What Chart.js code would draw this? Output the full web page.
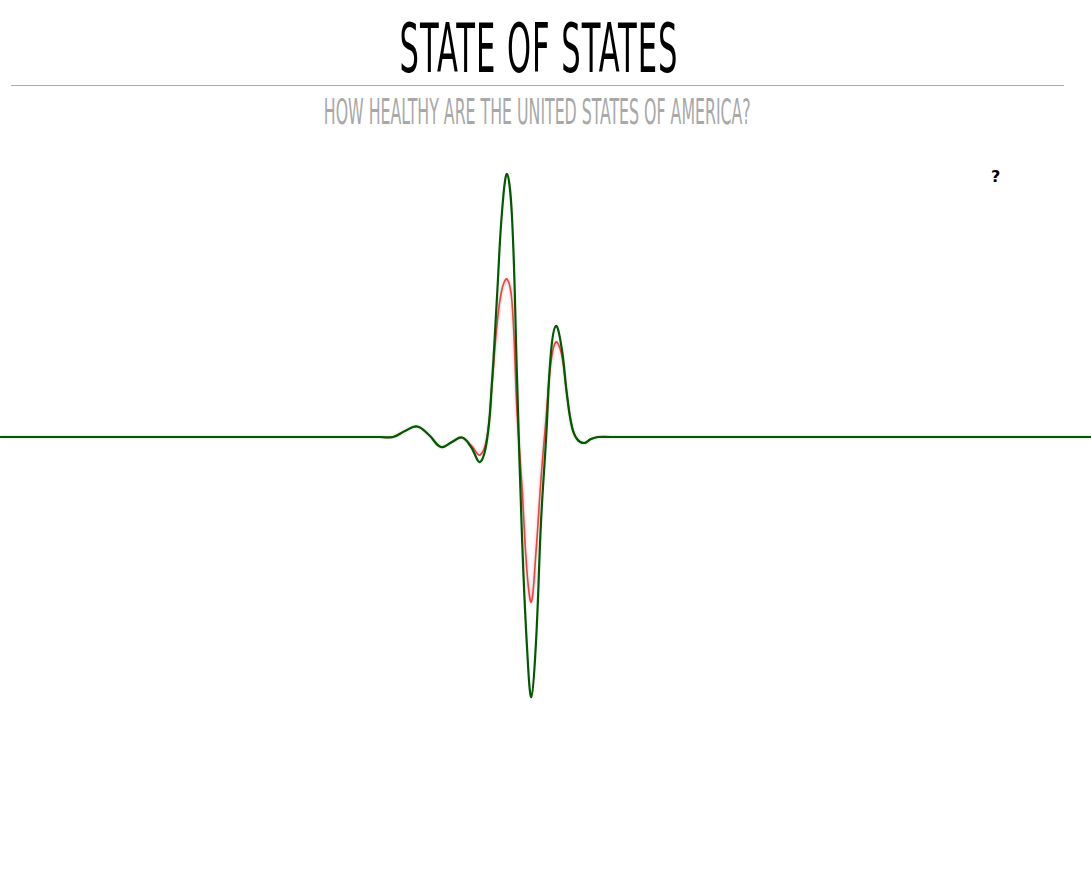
<!DOCTYPE html>
<html>
<head>
<meta charset="utf-8">
<script src="https://cdn.jsdelivr.net/npm/chart.js@4.4.1/dist/chart.umd.min.js"></script>
<style>
  html, body { margin: 0; padding: 0; background: #fff; width: 1091px; height: 892px; overflow: hidden; }
  #title { position: absolute; left: -7px; width: 1091px; top: 10px; text-align: center; }
  #title span { display: inline-block; font-family: "DejaVu Sans Condensed", "DejaVu Sans", sans-serif; font-size: 68px; line-height: 78px; color: #000; transform: scaleX(0.5); transform-origin: center; letter-spacing: 2px; }
  #rule { position: absolute; left: 11px; width: 1053px; top: 85px; height: 1px; background: #aaa; }
  #subtitle { position: absolute; left: -8px; width: 1091px; top: 92px; text-align: center; }
  #subtitle span { display: inline-block; font-family: "DejaVu Sans Condensed", "DejaVu Sans", sans-serif; font-weight: 300; font-size: 36px; line-height: 40px; color: #a8a8a8; transform: scaleX(0.487); transform-origin: center; }
  #help { position: absolute; left: 991px; top: 167px; font-family: "DejaVu Sans", sans-serif; font-weight: bold; font-size: 16px; color: #000; }
  #wrap { position: absolute; left: 0; top: 137px; width: 1091px; height: 600px; }
</style>
</head>
<body>
<div id="title"><span>STATE OF STATES</span></div>
<div id="rule"></div>
<div id="subtitle"><span>HOW HEALTHY ARE THE UNITED STATES OF AMERICA?</span></div>
<div id="help">?</div>
<div id="wrap"><canvas id="c"></canvas></div>
<script>
const greenX = [0, 370, 380, 393, 405, 417, 429, 441, 452, 462, 471, 480, 487, 492, 497, 502, 507, 512, 517, 522, 527, 531.3, 536, 541, 546, 551, 556, 561.5, 567, 572, 577, 584, 591, 598, 610, 1091];
const greenY = [0, 0, 0, 0, 6, 10.5, 2, -10, -5, -0.5, -10, -25, -3, 55, 140, 225, 263, 220, 60, -100, -210, -260, -205, -85, -3, 85, 111, 90, 42, 10, -2, -6, -2, 0, 0, 0];
const redX = [0, 370, 380, 393, 405, 417, 429, 441, 452, 462, 471, 480, 487, 492, 497, 502, 507, 512, 517, 522, 527, 531.3, 536, 541, 546, 551, 556, 561.5, 567, 572, 577, 584, 591, 598, 610, 1091];
const redY = [0, 0, 0, 0, 6, 10.5, 2, -10, -5, -0.5, -8, -18, 0, 52, 112, 148, 158, 135, 25, -50, -135, -165, -115, -42, 18, 75, 95, 83, 42, 10, -2, -6, -2, 0, 0, 0];

const toPts = (xs, ys) => xs.map((x, i) => ({ x: x, y: ys[i] }));

const shadowPlugin = {
  id: 'redShadow',
  beforeDatasetDraw(chart, args) {
    if (args.index === 1) {
      chart.ctx.save();
      chart.ctx.shadowColor = 'rgba(0,0,0,0.28)';
      chart.ctx.shadowBlur = 3;
    }
  },
  afterDatasetDraw(chart, args) {
    if (args.index === 1) chart.ctx.restore();
  }
};

new Chart(document.getElementById('c'), {
  type: 'line',
  data: {
    datasets: [
      { label: 'green', data: toPts(greenX, greenY), borderColor: '#005a00', borderWidth: 2.2, pointRadius: 0, fill: false, tension: 0.4, order: 0 },
      { label: 'red', data: toPts(redX, redY), borderColor: '#ff3a3a', borderWidth: 1.6, pointRadius: 0, fill: false, tension: 0.4, order: 1 }
    ]
  },
  options: {
    responsive: true,
    maintainAspectRatio: false,
    animation: false,
    layout: { padding: 0 },
    plugins: { legend: { display: false }, tooltip: { enabled: false }, title: { display: false } },
    scales: {
      x: { type: 'linear', min: 0, max: 1091, display: false },
      y: { type: 'linear', min: -300, max: 300, display: false }
    }
  },
  plugins: [shadowPlugin]
});
</script>
</body>
</html>
